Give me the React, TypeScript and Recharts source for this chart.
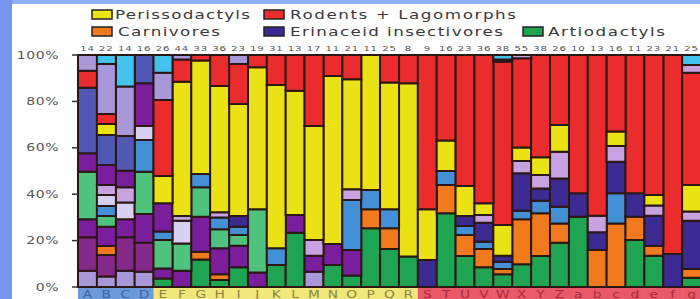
import { BarChart, Bar, XAxis, YAxis, Cell } from 'recharts';

const CATEGORIES = ['A', 'B', 'C', 'D', 'E', 'F', 'G', 'H', 'I', 'J', 'K', 'L', 'M', 'N', 'O', 'P', 'Q', 'R', 'S', 'T', 'U', 'V', 'W', 'X', 'Y', 'Z', 'a', 'b', 'c', 'd', 'e', 'f', 'g'];
const COUNTS = [14, 22, 14, 16, 26, 44, 33, 36, 23, 19, 31, 13, 17, 11, 21, 11, 25, 8, 9, 16, 23, 36, 38, 55, 38, 26, 10, 13, 16, 11, 23, 21, 25];
const GROUPS = [
  'g1', 'g1', 'g1', 'g1',
  'g2', 'g2', 'g2', 'g2', 'g2', 'g2', 'g2', 'g2', 'g2', 'g2', 'g2', 'g2', 'g2', 'g2',
  'g3', 'g3', 'g3', 'g3', 'g3', 'g3', 'g3', 'g3', 'g3', 'g3', 'g3', 'g3', 'g3', 'g3', 'g3',
];

// segments of every bar, bottom to top: [kind, percent]
const SEGMENTS: [string, number][][] = [
  [['lav', 7], ['plum', 14.4], ['pur', 7.8], ['lgr', 20.5], ['pur', 7.9], ['sla', 28.3], ['red', 7.3], ['lav', 6.8]],
  [['lav', 4.5], ['plum', 9.3], ['ora', 3.9], ['pur', 8.3], ['lgr', 4.6], ['blu', 4.3], ['pal', 4.8], ['pnk', 4.3], ['pur', 8.6], ['sla', 12.9], ['yel', 4.8], ['red', 4.3], ['lav', 21.5], ['cya', 3.9]],
  [['lav', 7], ['plum', 14.4], ['pur', 7.8], ['pal', 7.2], ['pnk', 6.6], ['pur', 7.1], ['sla', 15], ['lav', 21.3], ['cya', 13.6]],
  [['lav', 6.6], ['plum', 12.5], ['pur', 12.4], ['lgr', 18.2], ['blu', 13.7], ['pal', 6], ['pur', 18.4], ['sla', 12.2]],
  [['grn', 3.7], ['pur', 4.3], ['lgr', 12.3], ['blu', 3.6], ['pur', 12.2], ['yel', 11.7], ['red', 32.8], ['lav', 11.8], ['cya', 7.6]],
  [['pur', 7], ['lgr', 11.8], ['pal', 9.8], ['pnk', 2], ['yel', 57.9], ['red', 9.6], ['lav', 1.9]],
  [['grn', 11.9], ['ora', 3.3], ['pur', 15.1], ['lgr', 12.7], ['blu', 5.7], ['yel', 48.9], ['red', 2.4]],
  [['grn', 3], ['ora', 2.5], ['pur', 11.2], ['lgr', 8.2], ['blu', 5.1], ['pnk', 2.2], ['yel', 54.4], ['red', 13.4]],
  [['grn', 8.5], ['pur', 9.3], ['lgr', 4.6], ['blu', 3.6], ['ind', 4.6], ['yel', 48.3], ['red', 17.2], ['lav', 3.9]],
  [['pur', 6.2], ['lgr', 27.3], ['yel', 61.2], ['red', 5.3]],
  [['grn', 9.5], ['blu', 7.2], ['yel', 70.4], ['red', 12.9]],
  [['grn', 23.4], ['pur', 7.6], ['yel', 53.6], ['red', 15.4]],
  [['lav', 6.6], ['pur', 6.9], ['pnk', 6.8], ['yel', 49.1], ['red', 30.6]],
  [['grn', 9.5], ['pur', 9], ['yel', 72.4], ['red', 9.1]],
  [['grn', 5], ['pur', 10.9], ['blu', 21.6], ['pnk', 4.6], ['yel', 47.4], ['red', 10.5]],
  [['grn', 25.3], ['ora', 8.2], ['blu', 8.3], ['yel', 58.2]],
  [['grn', 16.4], ['ora', 8.9], ['blu', 8.2], ['yel', 54.6], ['red', 11.9]],
  [['grn', 13.1], ['yel', 74.7], ['red', 12.2]],
  [['ind', 11.6], ['yel', 21.9], ['red', 66.5]],
  [['grn', 31.8], ['ora', 12.2], ['blu', 6.1], ['yel', 13.1], ['red', 36.9]],
  [['grn', 13.4], ['ora', 9], ['blu', 3.9], ['ind', 4.3], ['yel', 12.9], ['red', 56.5]],
  [['grn', 8.5], ['ora', 7.9], ['blu', 3.1], ['ind', 8.2], ['pnk', 3.3], ['yel', 5.1], ['red', 63.9]],
  [['grn', 5.5], ['ora', 2.3], ['blu', 3.1], ['ind', 2.6], ['yel', 13.2], ['red', 70.4], ['ind', 1], ['cya', 1.9]],
  [['grn', 9.8], ['ora', 19.4], ['blu', 3.7], ['ind', 16.1], ['pnk', 5.3], ['yel', 5.8], ['red', 38.5], ['pnk', 1.4]],
  [['grn', 13.4], ['ora', 18.4], ['blu', 5.4], ['ind', 5.3], ['pnk', 5.8], ['yel', 7.6], ['red', 44.1]],
  [['grn', 19.1], ['ora', 8.3], ['blu', 7.2], ['ind', 12.2], ['pnk', 11.5], ['yel', 11.5], ['red', 30.2]],
  [['grn', 30.3], ['ind', 10.1], ['red', 59.6]],
  [['ora', 15.9], ['ind', 7.7], ['pnk', 7.1], ['red', 69.3]],
  [['ora', 27.4], ['blu', 13], ['ind', 13.6], ['pnk', 6.8], ['yel', 6.2], ['red', 33]],
  [['grn', 20.3], ['ora', 10], ['ind', 10.1], ['red', 59.6]],
  [['grn', 13.5], ['ora', 4.2], ['ind', 13], ['pnk', 4.4], ['yel', 4.6], ['red', 60.3]],
  [['ind', 14.2], ['red', 85.8]],
  [['grn', 4], ['ora', 3.8], ['ind', 20.8], ['pnk', 3.9], ['yel', 11.5], ['red', 48.4], ['pnk', 3.3], ['cya', 4.3]],
];

const LEGEND = [
  { kind: 'yel', label: 'Perissodactyls' },
  { kind: 'red', label: 'Rodents + Lagomorphs' },
  { kind: 'ora', label: 'Carnivores' },
  { kind: 'ind', label: 'Erinaceid insectivores' },
  { kind: 'grn', label: 'Artiodactyls' },
];

const PALETTE: Record<string, string> = {
  yel: '#eae214',
  red: '#ea2c2c',
  ora: '#f27a1e',
  ind: '#3b2a92',
  grn: '#1fa452',
  lgr: '#4fc27e',
  pur: '#7a1e9e',
  plum: '#84288a',
  lav: '#a898da',
  pnk: '#c8a2e0',
  pal: '#d8d0f2',
  cya: '#44c2ee',
  blu: '#4490d6',
  sla: '#5058b4',
};

const BANDS: Record<string, { bg: string; fg: string }> = {
  g1: { bg: '#6c9ad8', fg: '#3d62a8' },
  g2: { bg: '#f0e87a', fg: '#8a8448' },
  g3: { bg: '#e85a68', fg: '#a82a3c' },
};

const FONT = '"DejaVu Sans", sans-serif';
const EDGE = '#2b1714';
const CHART_W = 701;
const CHART_H = 299;
const Y_W = 78;
const STEP = (CHART_W - Y_W) / CATEGORIES.length;
const MAX_SEGS = Math.max(...SEGMENTS.map((s) => s.length));
const STRETCH = 1.4;

const data = CATEGORIES.map((name, i) => {
  const row: Record<string, string | number> = { name };
  SEGMENTS[i].forEach(([, v], j) => {
    row['s' + j] = v;
  });
  return row;
});

function CategoryTick({ x, payload }: any) {
  const i = CATEGORIES.indexOf(payload.value);
  const band = BANDS[GROUPS[i]];
  return (
    <g>
      <rect x={x - STEP / 2} y={288} width={STEP + 0.5} height={12} fill={band.bg} />
      <text
        transform={`translate(${x},297.5) scale(1.25,1)`}
        textAnchor="middle"
        fontSize={11}
        fontFamily={FONT}
        fill={band.fg}
      >
        {payload.value}
      </text>
    </g>
  );
}

function CountTick({ x, payload }: any) {
  const i = CATEGORIES.indexOf(payload.value);
  return (
    <text
      transform={`translate(${x},51) scale(1.35,1)`}
      textAnchor="middle"
      fontSize={7.5}
      letterSpacing={0.6}
      fontFamily={FONT}
      fill="#555"
    >
      {COUNTS[i]}
    </text>
  );
}

function PctTick({ x, y, payload }: any) {
  const label = Math.round(payload.value * 100) + '%';
  return (
    <text
      transform={`translate(${x},${y + 3.5}) scale(${STRETCH},1)`}
      textAnchor="end"
      fontSize={10}
      fontFamily={FONT}
      fill="#555"
      letterSpacing={0.4}
    >
      {label}
    </text>
  );
}

function LegendBox() {
  const spots = [
    { x: 92, y: 10, tx: 115, w: 135 },
    { x: 264, y: 10, tx: 290, w: 226 },
    { x: 92, y: 27, tx: 118, w: 102 },
    { x: 264, y: 27, tx: 290, w: 213 },
    { x: 523, y: 27, tx: 548, w: 117 },
  ];
  return (
    <svg width={700} height={45} style={{ position: 'absolute', left: 0, top: 0, pointerEvents: 'none' }}>
      {LEGEND.map((item, i) => (
        <g key={item.label}>
          <rect x={spots[i].x} y={spots[i].y} width={20} height={9} fill={PALETTE[item.kind]} stroke="#222" strokeWidth={1.5} />
          <text
            transform={`translate(${spots[i].tx},${spots[i].y + 9}) scale(${STRETCH},1)`}
            fontSize={12}
            fontFamily={FONT}
            fill="#3a3a3a"
            textLength={spots[i].w / STRETCH}
            lengthAdjust="spacing"
          >
            {item.label}
          </text>
        </g>
      ))}
    </svg>
  );
}

export default function App() {
  return (
    <div style={{ position: 'absolute', left: 0, top: 0, width: 700, height: 299, overflow: 'hidden', background: '#fff' }}>
      <div style={{ position: 'absolute', left: 0, top: 0, width: 700, height: 4, background: '#8fb0f8' }} />
      <div style={{ position: 'absolute', left: 0, top: 0, width: 12, height: 299, background: '#7595f0' }} />
      <div style={{ position: 'absolute', left: 0, top: 0 }}>
        <BarChart
          width={CHART_W}
          height={CHART_H}
          data={data}
          stackOffset="expand"
          barCategoryGap={0}
          margin={{ top: 35, right: 0, bottom: 0, left: 0 }}
        >
          <XAxis xAxisId="top" orientation="top" dataKey="name" height={20} axisLine={false} tickLine={false} tick={<CountTick />} interval={0} />
          <XAxis dataKey="name" height={12} axisLine={false} tickLine={false} tickSize={0} tick={<CategoryTick />} interval={0} />
          <YAxis
            width={Y_W}
            domain={[0, 1]}
            ticks={[0, 0.2, 0.4, 0.6, 0.8, 1]}
            axisLine={false}
            tickSize={6}
            tickMargin={13}
            tickLine={{ stroke: '#333', strokeWidth: 1.5 }}
            tick={<PctTick />}
          />
          {Array.from({ length: MAX_SEGS }, (_, j) => (
            <Bar key={j} dataKey={'s' + j} stackId="a" isAnimationActive={false} stroke={EDGE} strokeWidth={2}>
              {SEGMENTS.map((segs, i) => (
                <Cell
                  key={i}
                  fill={segs[j] ? PALETTE[segs[j][0]] : 'none'}
                  stroke={segs[j] ? EDGE : 'none'}
                />
              ))}
            </Bar>
          ))}
        </BarChart>
      </div>
      <LegendBox />
    </div>
  );
}
